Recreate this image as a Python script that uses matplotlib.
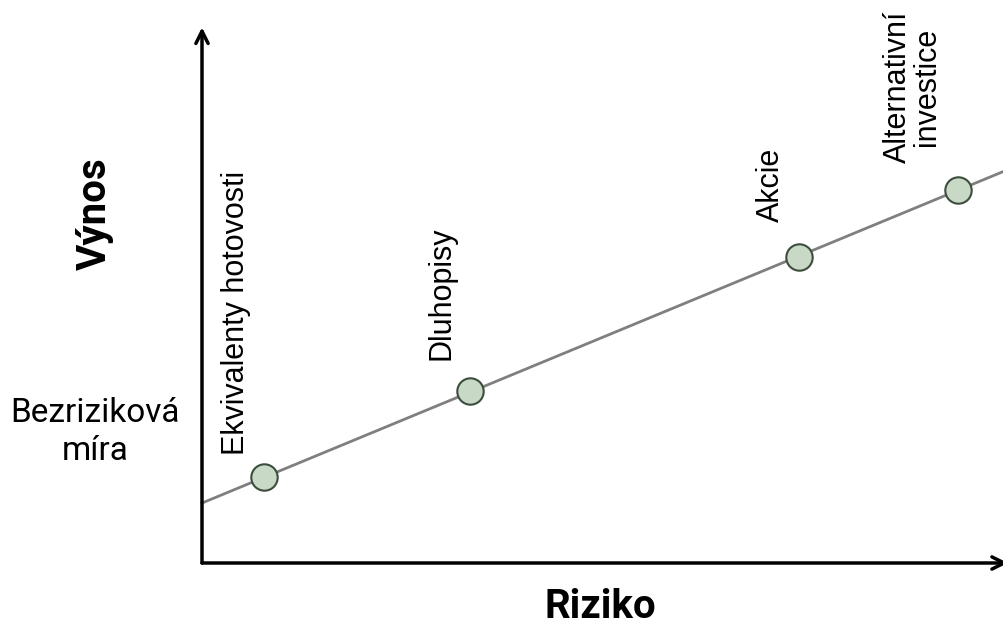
import matplotlib.pyplot as plt

# Riziko / výnos jednotlivých tříd aktiv
assets = ['Ekvivalenty hotovosti', 'Dluhopisy', 'Akcie', 'Alternativní\ninvestice']
risk = [0.62, 2.67, 5.96, 7.54]
ret = [1.29, 2.58, 4.59, 5.60]

# přímka trhu: od bezrizikové míry doprava
line_x = [0.0, 8.0]
line_y = [0.90, 5.88]

# posun popisků od bodu (px)
label_offsets = [(-13, 22), (-13, 31), (-14, 35), (-16, 27)]

fig = plt.figure(figsize=(10.04, 6.24), dpi=100)
ax = fig.add_axes([202 / 1004, 61 / 624, 802 / 1004, 533 / 624])
ax.set_xlim(0, 8)
ax.set_ylim(0, 8)
ax.axis('off')

ax.plot(line_x, line_y, color='#7f7f7f', linewidth=2, zorder=2, clip_on=False)
ax.plot(risk, ret, 'o', markersize=19, markerfacecolor='#c8dac6',
        markeredgecolor='#3d4d3d', markeredgewidth=1.5, zorder=3)

for name, x, y, (dx, dy) in zip(assets, risk, ret, label_offsets):
    ax.annotate(name, xy=(x, y), xytext=(dx, dy), textcoords='offset pixels',
                rotation=90, ha='right', va='bottom', multialignment='center',
                fontsize=22, family='Liberation Sans', linespacing=0.95)

# osy se šipkami
arrow = dict(arrowstyle='->', color='black', lw=2.5, mutation_scale=22,
             shrinkA=0, shrinkB=0)
ax.annotate('', xy=(0, 1.005), xytext=(0, 0), xycoords='axes fraction',
            arrowprops=arrow, annotation_clip=False)
ax.annotate('', xy=(1.005, 0), xytext=(0, 0), xycoords='axes fraction',
            arrowprops=arrow, annotation_clip=False)

fig.text(95 / 1004, 1 - 214 / 624, 'Výnos', rotation=90, ha='center', va='center',
         fontsize=29, fontweight='bold', family='Roboto')
fig.text(600 / 1004, 1 - 607 / 624, 'Riziko', ha='center', va='center',
         fontsize=29, fontweight='bold', family='Roboto')
fig.text(95 / 1004, 1 - 432 / 624, 'Bezriziková\nmíra', ha='center', va='center',
         fontsize=24, family='Roboto', linespacing=1.2)

fig.savefig('out.png', dpi=100)
